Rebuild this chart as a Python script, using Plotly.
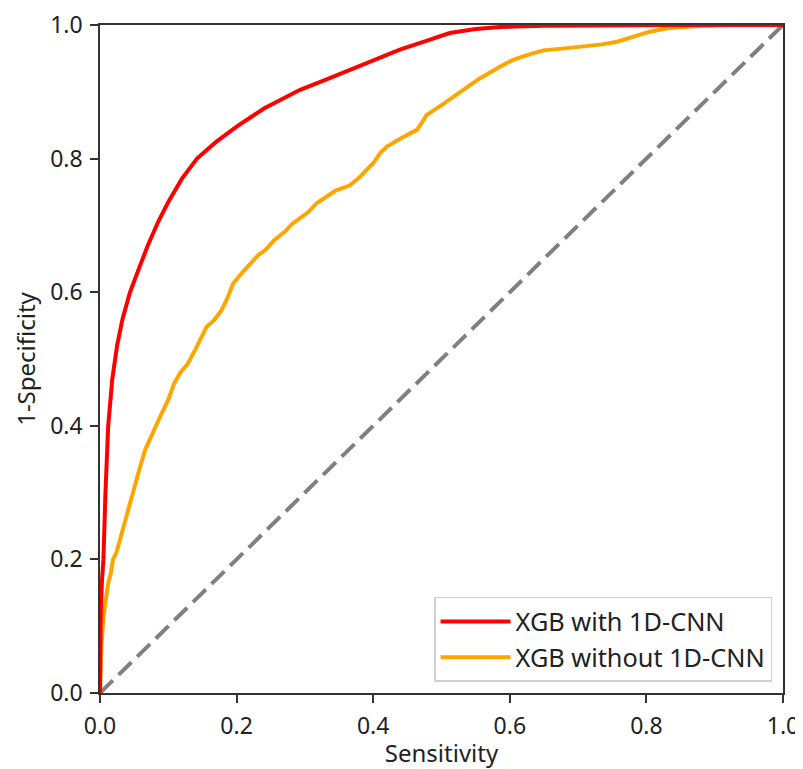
import plotly.graph_objects as go

# Red curve: XGB with 1D-CNN
red_x = [0.0, 0.001, 0.003, 0.005, 0.008, 0.012, 0.018, 0.025, 0.033, 0.044, 0.055, 0.07, 0.085,
         0.1, 0.12, 0.142, 0.17, 0.2, 0.24, 0.293, 0.33, 0.366, 0.4, 0.439, 0.48, 0.512, 0.55,
         0.586, 0.65, 0.75, 0.85, 1.0]
red_y = [0.0, 0.12, 0.17, 0.2, 0.3, 0.4, 0.47, 0.52, 0.56, 0.6, 0.63, 0.67, 0.705,
         0.735, 0.77, 0.8, 0.825, 0.848, 0.875, 0.903, 0.918, 0.933, 0.947, 0.963, 0.977, 0.988, 0.994,
         0.997, 0.999, 1.0, 1.0, 1.0]

# Orange curve: XGB without 1D-CNN
orange_x = [0.0, 0.002, 0.005, 0.009, 0.012, 0.016, 0.019, 0.024, 0.029, 0.034, 0.039, 0.045, 0.051,
            0.058, 0.066, 0.073, 0.081, 0.09, 0.1, 0.108, 0.117, 0.128, 0.139, 0.147, 0.156, 0.167,
            0.178, 0.186, 0.195, 0.207, 0.22, 0.231, 0.242, 0.255, 0.27, 0.282, 0.293, 0.305, 0.317,
            0.33, 0.345, 0.366, 0.38, 0.392, 0.4, 0.41, 0.42, 0.44, 0.464, 0.47, 0.478, 0.5, 0.527,
            0.556, 0.586, 0.605, 0.625, 0.649, 0.68, 0.707, 0.735, 0.757, 0.78, 0.805, 0.83, 0.87,
            0.92, 1.0]
orange_y = [0.0, 0.07, 0.114, 0.14, 0.164, 0.18, 0.2, 0.21, 0.229, 0.25, 0.264, 0.29, 0.314,
            0.336, 0.364, 0.38, 0.4, 0.418, 0.439, 0.462, 0.479, 0.492, 0.513, 0.53, 0.548, 0.558,
            0.573, 0.59, 0.613, 0.628, 0.643, 0.655, 0.663, 0.678, 0.69, 0.703, 0.711, 0.72, 0.733,
            0.742, 0.752, 0.76, 0.772, 0.785, 0.793, 0.808, 0.818, 0.83, 0.843, 0.852, 0.865, 0.88, 0.9,
            0.92, 0.938, 0.948, 0.955, 0.962, 0.965, 0.968, 0.971, 0.975, 0.982, 0.99, 0.995, 0.998,
            1.0, 1.0]

diag = [0.0, 1.0]

tick_vals = [0, 0.2, 0.4, 0.6, 0.8, 1.0]
tick_text = ["0.0", "0.2", "0.4", "0.6", "0.8", "1.0"]

font_family = "Noto Sans, Open Sans, DejaVu Sans, sans-serif"

fig = go.Figure()
fig.add_trace(go.Scatter(x=diag, y=diag, mode="lines", showlegend=False,
                         line=dict(color="#808080", width=4, dash="18px,8px")))
fig.add_trace(go.Scatter(x=orange_x, y=orange_y, mode="lines", name="XGB without 1D-CNN",
                         line=dict(color="#FFA500", width=4)))
fig.add_trace(go.Scatter(x=red_x, y=red_y, mode="lines", name="XGB with 1D-CNN",
                         line=dict(color="#FF0000", width=4)))

axis_common = dict(
    range=[0, 1], tickvals=tick_vals, ticktext=tick_text,
    showgrid=False, zeroline=False, showline=True, linecolor="#333333", linewidth=1.5,
    mirror=True, ticks="outside", ticklen=8, tickwidth=1.5, tickcolor="#333333",
    tickfont=dict(size=23, color="#222222", family=font_family),
    automargin=False, ticklabeloverflow="allow",
)

# Page body has an 8px margin; figure sized/offset so the plot area lands at 100..783 x 25..693
fig.update_layout(
    width=795, height=761,
    margin=dict(l=92, r=20, t=17, b=76),
    plot_bgcolor="white", paper_bgcolor="white",
    font=dict(family=font_family, size=23, color="#222222"),
    xaxis=dict(**axis_common, ticklabelstandoff=4,
               title=dict(text="Sensitivity", font=dict(size=24), standoff=6)),
    yaxis=dict(**axis_common, ticklabelstandoff=3,
               title=dict(text="1-Specificity", font=dict(size=24), standoff=8)),
    legend=dict(x=0.984, y=0.0165, xanchor="right", yanchor="bottom",
                traceorder="reversed", itemwidth=70,
                bgcolor="white", bordercolor="#d0d0d0", borderwidth=1.5,
                font=dict(size=25.3, color="#222222")),
)

fig.write_html("out.html")
